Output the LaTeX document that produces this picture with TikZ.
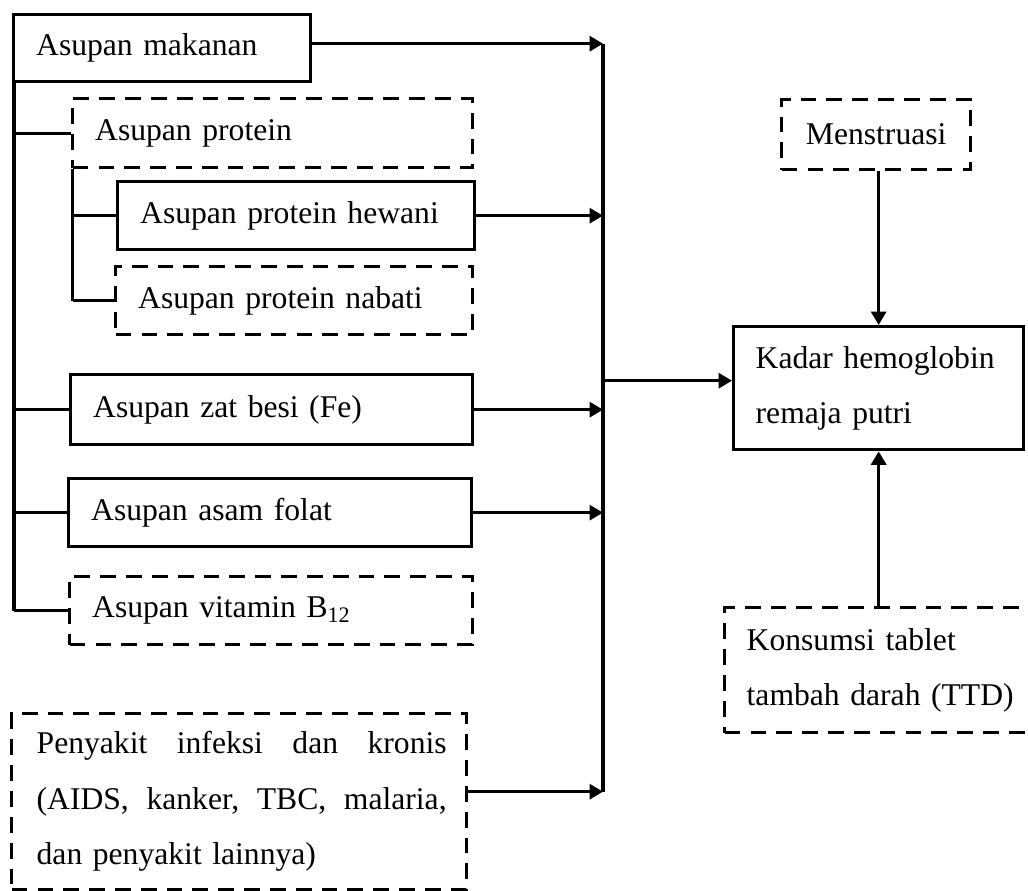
\documentclass[tikz,border=0pt]{standalone}
\usepackage{fontspec}
\setmainfont{Liberation Serif}
\usepackage{tikz}
\usetikzlibrary{arrows.meta}

\begin{document}
\begin{tikzpicture}
[bx/.style={draw=black,line width=1.9pt,anchor=north west,inner xsep=0.45cm,inner ysep=0pt,align=left,font=\fontsize{18}{31.6}\selectfont},
 dbx/.style={bx,dash pattern=on 9pt off 5.7pt},
 ln/.style={draw=black,line width=1.9pt},
 ar/.style={ln,arrows={-Triangle[length=0.27cm,width=0.3cm]}}]
\useasboundingbox (0,0) rectangle (20.56,-17.8);
\clip (0,0) rectangle (20.56,-17.8);

\node[bx,text width=5.03cm,minimum height=1.34cm] (mak) at (0.24,-0.26) {Asupan makanan};
\node[dbx,text width=7.1cm,minimum height=1.38cm] (prot) at (1.42,-1.94) {Asupan protein};
\node[bx,text width=6.23cm,minimum height=1.36cm] (hew) at (2.32,-3.6) {Asupan protein hewani};
\node[dbx,text width=6.23cm,minimum height=1.36cm] (nab) at (2.28,-5.3) {Asupan protein nabati};
\node[bx,text width=7.14cm,minimum height=1.4cm] (fe) at (1.38,-7.46) {Asupan zat besi (Fe)};
\node[bx,text width=7.16cm,minimum height=1.36cm] (fol) at (1.34,-9.54) {Asupan asam folat};
\node[dbx,text width=7.15cm,minimum height=1.36cm] (b12) at (1.36,-11.5) {Asupan vitamin B\textsubscript{12}};
\node[dbx,inner xsep=0.5cm,text width=8.09cm,minimum height=3.52cm] (peny) at (0.2,-14.24)
  {\makebox[8.2cm][s]{Penyakit \hfill infeksi \hfill dan \hfill kronis}\\
   \makebox[8.2cm][s]{(AIDS, \hfill kanker, \hfill TBC, \hfill malaria,}\\
   dan penyakit lainnya)};

\node[dbx,inner xsep=0.39cm,text width=3.0cm,align=center,minimum height=1.4cm] (mens) at (15.6,-1.96) {Menstruasi};
\node[bx,inner xsep=0.44cm,text width=4.92cm,minimum height=2.46cm] (kadar) at (14.64,-6.5) {Kadar hemoglobin\\remaja putri};
\node[dbx,inner xsep=0.44cm,text width=5.72cm,minimum height=2.5cm] (kons) at (14.46,-12.12) {Konsumsi tablet\\tambah darah (TTD)};

% left side
\coordinate (L) at (0.28,0);
\coordinate (P) at (1.45,0);
\draw[ln] (mak.south -| L) -- (b12.west -| L);
\foreach \n in {prot,fe,fol,b12}
  \draw[ln] (\n.west -| L) -- (\n.west);
\draw[ln] (prot.south -| P) -- (nab.west -| P);
\foreach \n in {hew,nab}
  \draw[ln] (\n.west -| P) -- (\n.west);

% right bus
\coordinate (R) at (12.06,0);
\coordinate (mk) at ([yshift=0.09cm]mak.east);
\coordinate (pn) at ([yshift=0.2cm]peny.east);
\draw[ln] (mk -| R) -- (pn -| R);
\foreach \n in {mk,hew.east,fe.east,fol.east,pn}
  \draw[ar] (\n) -- (\n -| R);
\draw[ar] ([yshift=0.15cm]kadar.west -| R) -- ([yshift=0.15cm]kadar.west);

\draw[ar] (mens.south -| kadar.north) -- (kadar.north);
\draw[ar] (kadar.south |- kons.north) -- (kadar.south);

\end{tikzpicture}
\end{document}
